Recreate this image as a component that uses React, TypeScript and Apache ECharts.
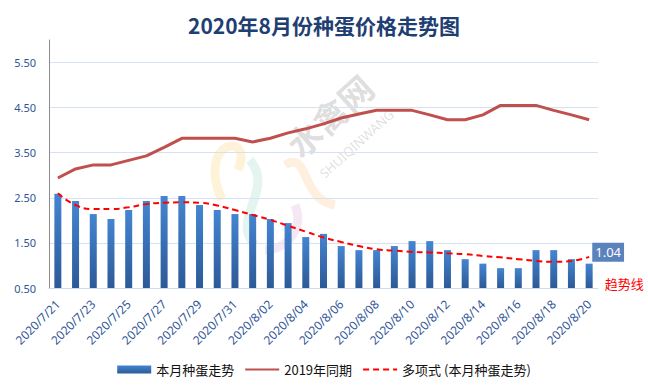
import React, { useEffect, useRef } from "react";
import * as echarts from "echarts";

const categories = [
  "2020/7/21", "2020/7/22", "2020/7/23", "2020/7/24", "2020/7/25", "2020/7/26",
  "2020/7/27", "2020/7/28", "2020/7/29", "2020/7/30", "2020/7/31",
  "2020/8/01", "2020/8/02", "2020/8/03", "2020/8/04", "2020/8/05", "2020/8/06",
  "2020/8/07", "2020/8/08", "2020/8/09", "2020/8/10", "2020/8/11", "2020/8/12",
  "2020/8/13", "2020/8/14", "2020/8/15", "2020/8/16", "2020/8/17", "2020/8/18",
  "2020/8/19", "2020/8/20",
];

const thisMonth = [
  2.59, 2.43, 2.14, 2.03, 2.23, 2.43, 2.54, 2.54, 2.34, 2.23, 2.14,
  2.14, 2.03, 1.94, 1.63, 1.70, 1.43, 1.34, 1.34, 1.43, 1.54, 1.54,
  1.34, 1.14, 1.04, 0.94, 0.94, 1.34, 1.34, 1.14, 1.04,
];

const lastYear = [
  2.94, 3.14, 3.23, 3.23, 3.33, 3.43, 3.62, 3.82, 3.82, 3.82, 3.82,
  3.74, 3.82, 3.94, 4.03, 4.14, 4.27, 4.36, 4.44, 4.44, 4.44, 4.34,
  4.23, 4.23, 4.34, 4.55, 4.55, 4.55, 4.44, 4.34, 4.23,
];

const trend = [
  2.60, 2.34, 2.25, 2.25, 2.29, 2.36, 2.39, 2.40, 2.39, 2.33, 2.23,
  2.12, 2.01, 1.88, 1.75, 1.62, 1.52, 1.43, 1.36, 1.33, 1.30, 1.29,
  1.27, 1.25, 1.21, 1.18, 1.14, 1.10, 1.08, 1.10, 1.19,
];

const yTicks = { min: 0.5, max: 6.0, interval: 1 };

export default function App() {
  const ref = useRef<HTMLDivElement>(null);

  useEffect(() => {
    if (!ref.current) return;
    const chart = echarts.init(ref.current, undefined, { renderer: "svg" });
    const last = thisMonth.length - 1;

    chart.setOption({
      animation: false,
      backgroundColor: "#ffffff",
      title: {
        text: "2020年8月份种蛋价格走势图",
        left: "center",
        top: 9,
        textStyle: {
          fontSize: 21,
          fontWeight: "bold",
          color: "#1f3f73",
          fontFamily: "Noto Sans CJK SC",
        },
      },
      graphic: [
        // faint logo shapes
        {
          type: "bezierCurve",
          shape: { x1: 222, y1: 200, x2: 238, y2: 170, cpx1: 195, cpy1: 140, cpx2: 255, cpy2: 130 },
          style: { stroke: "rgba(250,200,80,0.22)", lineWidth: 9, fill: null },
          z: 0,
        },
        {
          type: "bezierCurve",
          shape: { x1: 250, y1: 160, x2: 255, y2: 245, cpx1: 275, cpy1: 190, cpx2: 230, cpy2: 220 },
          style: { stroke: "rgba(120,200,180,0.2)", lineWidth: 9, fill: null },
          z: 0,
        },
        {
          type: "bezierCurve",
          shape: { x1: 285, y1: 165, x2: 335, y2: 205, cpx1: 310, cpy1: 150, cpx2: 300, cpy2: 200 },
          style: { stroke: "rgba(250,180,110,0.22)", lineWidth: 9, fill: null },
          z: 0,
        },
        {
          type: "bezierCurve",
          shape: { x1: 295, y1: 205, x2: 265, y2: 250, cpx1: 305, cpy1: 230, cpx2: 285, cpy2: 250 },
          style: { stroke: "rgba(200,140,200,0.2)", lineWidth: 9, fill: null },
          z: 0,
        },
        {
          type: "text",
          x: 303,
          y: 162,
          rotation: (42 * Math.PI) / 180,
          style: {
            text: "水禽网",
            fontSize: 34,
            fontWeight: "bold",
            fill: "rgba(0,0,0,0.15)",
            fontFamily: "Noto Sans CJK SC",
            verticalAlign: "bottom",
          },
          z: 0,
        },
        {
          type: "text",
          x: 326,
          y: 180,
          rotation: (42 * Math.PI) / 180,
          style: {
            text: "SHUIQINWANG",
            fontSize: 13,
            fill: "rgba(0,0,0,0.14)",
            fontFamily: "Noto Sans",
            verticalAlign: "bottom",
          },
          z: 0,
        },
      ],
      legend: {
        bottom: 10,
        left: "center",
        itemWidth: 34,
        itemHeight: 8,
        itemGap: 10,
        textStyle: { fontSize: 13, color: "#111", fontFamily: "Noto Sans CJK SC" },
        data: [
          { name: "本月种蛋走势", icon: "rect" },
          { name: "2019年同期", itemStyle: { opacity: 0 } },
          { name: "多项式 (本月种蛋走势)", itemStyle: { opacity: 0 } },
        ],
      },
      grid: { left: 49, right: 50, top: 40, bottom: 103 },
      xAxis: {
        type: "category",
        data: categories,
        axisTick: { show: false },
        axisLine: { lineStyle: { color: "#d0dbe8", width: 1 } },
        axisLabel: {
          interval: 1,
          rotate: 45,
          fontSize: 12,
          color: "#2f5597",
          margin: 14,
          fontFamily: "Noto Sans",
        },
      },
      yAxis: {
        type: "value",
        min: yTicks.min,
        max: yTicks.max,
        interval: yTicks.interval,
        axisLine: { show: true, lineStyle: { color: "#8c8c8c", width: 1 } },
        axisTick: { show: false },
        axisLabel: {
          formatter: (v: number) => v.toFixed(2),
          fontSize: 11,
          color: "#2f5597",
          margin: 13,
          showMaxLabel: false,
          fontFamily: "Noto Sans",
        },
        splitLine: {
          show: true,
          showMaxLine: false,
          lineStyle: { color: "#d6e2ef", width: 1 },
        },
      },
      series: [
        {
          name: "本月种蛋走势",
          type: "bar",
          barWidth: 7,
          data: thisMonth.map((v, i) =>
            i === last
              ? {
                  value: v,
                  label: {
                    show: true,
                    position: "top",
                    offset: [19, 3],
                    formatter: (p: any) => String(p.value.toFixed(2)),
                    backgroundColor: "#5a82bd",
                    color: "#ffffff",
                    padding: [3, 3, 3, 3],
                    fontSize: 13,
                    fontFamily: "Noto Sans",
                  },
                }
              : v
          ),
          itemStyle: {
            color: new echarts.graphic.LinearGradient(0, 0, 0, 1, [
              { offset: 0, color: "#4485d1" },
              { offset: 1, color: "#2c5a97" },
            ]),
          },
          z: 2,
        },
        {
          name: "2019年同期",
          type: "line",
          data: lastYear,
          symbol: "none",
          lineStyle: { color: "#c0504d", width: 3 },
          itemStyle: { color: "#c0504d" },
          z: 3,
        },
        {
          name: "多项式 (本月种蛋走势)",
          type: "line",
          data: trend,
          smooth: true,
          symbol: "none",
          lineStyle: { color: "#ff0000", width: 2, type: [6, 4] },
          itemStyle: { color: "#ff0000" },
          markPoint: {
            symbol: "circle",
            symbolSize: 1,
            itemStyle: { color: "rgba(0,0,0,0)" },
            data: [
              {
                coord: [last, trend[last]],
                label: {
                  show: true,
                  position: "right",
                  offset: [10, 27],
                  formatter: "趋势线",
                  color: "#ff0000",
                  fontSize: 13,
                  fontFamily: "Noto Sans CJK SC",
                },
              },
            ],
          },
          z: 4,
        },
      ],
    });

    return () => chart.dispose();
  }, []);

  return (
    <div
      ref={ref}
      style={{ position: "fixed", left: 0, top: 0, width: 648, height: 391 }}
    />
  );
}
